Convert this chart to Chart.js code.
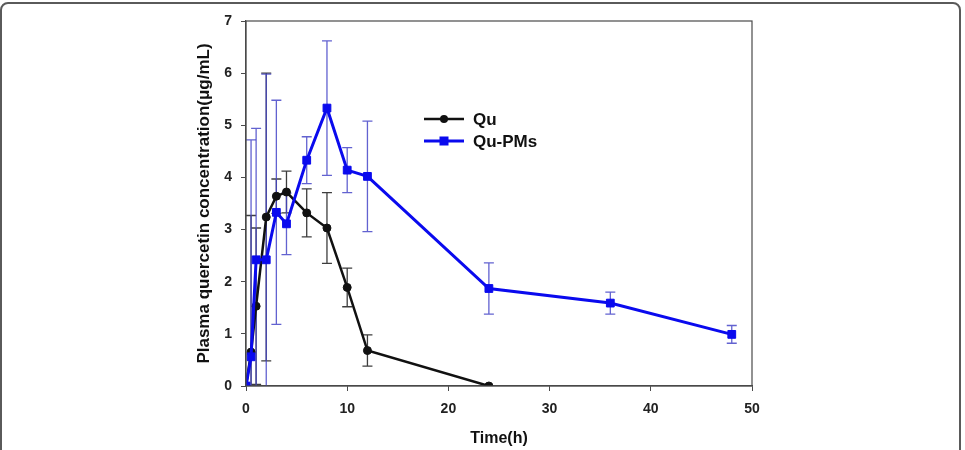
<!DOCTYPE html>
<html>
<head>
<meta charset="utf-8">
<script src="https://cdn.jsdelivr.net/npm/chart.js@4/dist/chart.umd.min.js"></script>
<style>
  html, body { margin: 0; padding: 0; background: #fff; overflow: hidden; }
  #marco {
    position: absolute; left: 0; top: 2px; width: 961px; height: 470px;
    box-sizing: border-box; border: 2px solid #5a5a5a; border-radius: 8px;
  }
  #contenedor { position: absolute; left: 0; top: 0; width: 965px; height: 450px; }
</style>
</head>
<body>
<div id="marco"></div>
<div id="contenedor"><canvas id="grafico"></canvas></div>
<script>
// datos
const tiempoQu = [0, 0.5, 1, 2, 3, 4, 6, 8, 10, 12, 24];
const valoresQu = [0, 0.65, 1.53, 3.24, 3.64, 3.72, 3.32, 3.03, 1.89, 0.68, 0];
const erroresQu = [0, 2.62, 1.5, 2.76, 0.33, 0.4, 0.46, 0.68, 0.37, 0.3, 0];

const tiempoPMs = [0, 0.5, 1, 2, 3, 4, 6, 8, 10, 12, 24, 36, 48];
const valoresPMs = [0, 0.56, 2.42, 2.42, 3.33, 3.11, 4.33, 5.33, 4.14, 4.02, 1.87, 1.59, 0.99];
const erroresPMs = [0, 4.16, 2.52, 3.56, 2.15, 0.59, 0.45, 1.29, 0.43, 1.06, 0.49, 0.21, 0.17];

const ticksX = [0, 10, 20, 30, 40, 50];
const ticksY = [0, 1, 2, 3, 4, 5, 6, 7];

const fuente = '"Liberation Sans", Arial, sans-serif';

function puntos(tiempos, valores) {
  return tiempos.map((t, i) => ({ x: t, y: valores[i] }));
}

// barras de error dibujadas con las escalas del grafico
const barrasError = {
  id: 'barrasError',
  beforeDatasetsDraw(chart) {
    const { ctx, chartArea, scales } = chart;
    ctx.save();
    ctx.beginPath();
    ctx.rect(chartArea.left, chartArea.top, chartArea.right - chartArea.left, chartArea.bottom - chartArea.top);
    ctx.clip();
    chart.data.datasets.forEach(ds => {
      ctx.strokeStyle = ds.colorError;
      ctx.lineWidth = 1.3;
      ds.data.forEach((p, i) => {
        const e = ds.errores[i];
        if (!e) return;
        const x = scales.x.getPixelForValue(p.x);
        const yArriba = scales.y.getPixelForValue(p.y + e);
        const yAbajo = scales.y.getPixelForValue(p.y - e);
        ctx.beginPath();
        ctx.moveTo(x, yArriba);
        ctx.lineTo(x, yAbajo);
        ctx.moveTo(x - 5, yArriba);
        ctx.lineTo(x + 5, yArriba);
        ctx.moveTo(x - 5, yAbajo);
        ctx.lineTo(x + 5, yAbajo);
        ctx.stroke();
      });
    });
    ctx.restore();
  },
  afterDraw(chart) {
    const { ctx, chartArea } = chart;
    ctx.save();
    // marco del area de trazado
    ctx.strokeStyle = '#4a4a4a';
    ctx.lineWidth = 1.2;
    ctx.strokeRect(chartArea.left, chartArea.top, chartArea.right - chartArea.left, chartArea.bottom - chartArea.top);

    // leyenda
    const entradas = [
      { texto: 'Qu', color: '#111', forma: 'circle', y: 119 },
      { texto: 'Qu-PMs', color: '#0a0aee', forma: 'rect', y: 141 }
    ];
    entradas.forEach(en => {
      ctx.strokeStyle = en.color;
      ctx.fillStyle = en.color;
      ctx.lineWidth = en.forma === 'rect' ? 3 : 2.5;
      ctx.beginPath();
      ctx.moveTo(424, en.y);
      ctx.lineTo(464, en.y);
      ctx.stroke();
      if (en.forma === 'circle') {
        ctx.beginPath();
        ctx.arc(444, en.y, 4, 0, Math.PI * 2);
        ctx.fill();
      } else {
        ctx.fillRect(439.5, en.y - 4.5, 9, 9);
      }
      ctx.fillStyle = '#111';
      ctx.font = 'bold 17px ' + fuente;
      ctx.textBaseline = 'middle';
      ctx.fillText(en.texto, 473, en.y + 1);
    });
    ctx.restore();
  }
};

const ctx = document.getElementById('grafico').getContext('2d');
new Chart(ctx, {
  type: 'scatter',
  data: {
    datasets: [
      {
        label: 'Qu',
        data: puntos(tiempoQu, valoresQu),
        errores: erroresQu,
        colorError: 'rgba(40, 40, 40, 0.9)',
        showLine: true,
        borderColor: '#111',
        backgroundColor: '#111',
        borderWidth: 2.5,
        pointStyle: 'circle',
        pointRadius: 4,
        pointBorderWidth: 1,
        order: 1
      },
      {
        label: 'Qu-PMs',
        data: puntos(tiempoPMs, valoresPMs),
        errores: erroresPMs,
        colorError: 'rgba(70, 70, 200, 0.85)',
        showLine: true,
        borderColor: '#0a0aee',
        backgroundColor: '#0a0aee',
        borderWidth: 3,
        pointStyle: 'rect',
        pointRadius: 5.5,
        pointBorderWidth: 1,
        order: 0
      }
    ]
  },
  options: {
    responsive: true,
    maintainAspectRatio: false,
    animation: false,
    layout: { padding: { left: 190, right: 213, top: 21, bottom: 0 } },
    plugins: { legend: { display: false }, tooltip: { enabled: false } },
    scales: {
      x: {
        type: 'linear',
        min: 0,
        max: 50,
        afterBuildTicks: escala => { escala.ticks = ticksX.map(v => ({ value: v })); },
        afterFit: escala => { escala.height = 64; },
        grid: { drawOnChartArea: false, drawTicks: true, tickLength: 5, color: '#4a4a4a' },
        border: { color: '#4a4a4a', width: 1.2 },
        ticks: { color: '#222', padding: 10, font: { family: fuente, size: 14, weight: 'bold' } },
        title: {
          display: true,
          text: 'Time(h)',
          color: '#111',
          padding: { top: 0, bottom: 2 },
          font: { family: fuente, size: 16, weight: 'bold' }
        }
      },
      y: {
        type: 'linear',
        min: 0,
        max: 7,
        afterBuildTicks: escala => { escala.ticks = ticksY.map(v => ({ value: v })); },
        afterFit: escala => { escala.width = 56; },
        grid: { drawOnChartArea: false, drawTicks: true, tickLength: 5, color: '#4a4a4a' },
        border: { color: '#4a4a4a', width: 1.2 },
        ticks: { color: '#222', padding: 9, font: { family: fuente, size: 14, weight: 'bold' } },
        title: {
          display: true,
          text: 'Plasma quercetin concentration(μg/mL)',
          color: '#111',
          padding: { top: 4, bottom: 0 },
          font: { family: fuente, size: 17, weight: 'bold' }
        }
      }
    }
  },
  plugins: [barrasError]
});
</script>
</body>
</html>
